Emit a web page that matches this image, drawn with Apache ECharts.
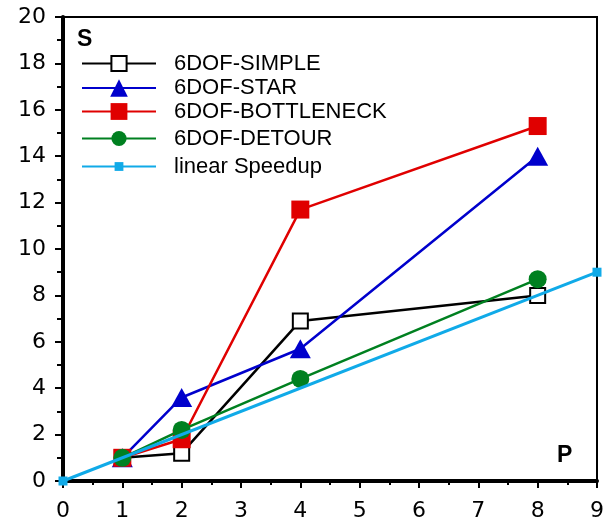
<!DOCTYPE html>
<html><head><meta charset="utf-8">
<script src="https://cdn.jsdelivr.net/npm/echarts@6/dist/echarts.min.js"></script>
<style>html,body{margin:0;padding:0;background:#fff}#c{width:607px;height:517px}</style>
</head><body><div id="c"></div>
<script>
const seriesNames = ['6DOF-SIMPLE','6DOF-STAR','6DOF-BOTTLENECK','6DOF-DETOUR','linear Speedup'];
const simpleData = [[1,1.0],[2,1.2],[4,6.9],[8,8.0]];
const starData = [[1,1.0],[2,3.6],[4,5.7],[8,14.0]];
const bottleneckData = [[1,1.0],[2,1.8],[4,11.7],[8,15.3]];
const detourData = [[1,1.0],[2,2.2],[4,4.4],[8,8.7]];
const linearData = [[0,0],[9,9]];
const xTicks = [0,1,2,3,4,5,6,7,8,9];
const yTicks = [0,2,4,6,8,10,12,14,16,18,20];

const FONT = 'Liberation Sans, Arial, sans-serif';
const TICKFONT = 'DejaVu Sans, sans-serif';
const chart = echarts.init(document.getElementById('c'), null, {renderer:'canvas'});

function legendItem(name, center, h) {
  return {
    show: true, left: 81, top: center - h/2, orient: 'vertical', padding: 0,
    data: [name], itemWidth: 74, itemHeight: h,
    selectedMode: false,
    textStyle: {fontFamily: FONT, fontSize: 22, color: '#000', padding: [0,0,0,13]}
  };
}

const option = {
  animation: false,
  backgroundColor: '#fff',
  grid: {left: 63, right: 10, top: 17, bottom: 36, outerBoundsMode: 'none', containLabel: false,
         show: true, borderColor: '#000', borderWidth: 2, backgroundColor: 'transparent'},
  xAxis: {
    type: 'value', min: xTicks[0], max: xTicks[xTicks.length-1], interval: 1,
    axisLine: {show: true, lineStyle: {color: '#000', width: 4}},
    axisTick: {show: true, inside: false, length: 7, lineStyle: {color: '#000', width: 2}},
    minorTick: {show: true, splitNumber: 2, length: 4, lineStyle: {color: '#000', width: 2}},
    splitLine: {show: false},
    axisLabel: {fontFamily: TICKFONT, fontSize: 22, color: '#000', margin: 19}
  },
  yAxis: {
    type: 'value', min: yTicks[0], max: yTicks[yTicks.length-1], interval: 2,
    axisLine: {show: true, lineStyle: {color: '#000', width: 4}},
    axisTick: {show: true, inside: false, length: 8, lineStyle: {color: '#000', width: 2}},
    minorTick: {show: true, splitNumber: 2, length: 6, lineStyle: {color: '#000', width: 2}},
    splitLine: {show: false},
    axisLabel: {fontFamily: TICKFONT, fontSize: 22, color: '#000', margin: 17}
  },
  legend: [
    legendItem(seriesNames[0], 62, 19),
    legendItem(seriesNames[1], 88, 22),
    legendItem(seriesNames[2], 111, 21),
    legendItem(seriesNames[3], 137, 19),
    legendItem(seriesNames[4], 161, 11)
  ],
  graphic: [
    {type: 'text', left: 77, top: 28, style: {text: 'S', font: 'bold 23px ' + FONT, fill: '#000'}},
    {type: 'text', left: 557, top: 444, style: {text: 'P', font: 'bold 23px ' + FONT, fill: '#000'}}
  ],
  series: [
    {name: seriesNames[0], type: 'line', data: simpleData, symbol: 'rect', symbolSize: 15, clip: false,
     lineStyle: {color: '#000', width: 2.5}, itemStyle: {color: '#fff', borderColor: '#000', borderWidth: 2}, z: 2},
    {name: seriesNames[1], type: 'line', data: starData, symbol: 'triangle', symbolSize: [21,19], clip: false,
     lineStyle: {color: '#0000CC', width: 2.5}, itemStyle: {color: '#0000CC'}, z: 3},
    {name: seriesNames[2], type: 'line', data: bottleneckData, symbol: 'rect', symbolSize: 18, clip: false,
     lineStyle: {color: '#E00000', width: 2.5}, itemStyle: {color: '#E00000'}, z: 4},
    {name: seriesNames[3], type: 'line', data: detourData, symbol: 'circle', symbolSize: 18, clip: false,
     lineStyle: {color: '#008020', width: 2.5}, itemStyle: {color: '#008020'}, z: 5},
    {name: seriesNames[4], type: 'line', data: linearData, symbol: 'rect', symbolSize: 9, clip: false,
     lineStyle: {color: '#10AAE8', width: 3}, itemStyle: {color: '#10AAE8'}, z: 6}
  ]
};
chart.setOption(option);
</script></body></html>
